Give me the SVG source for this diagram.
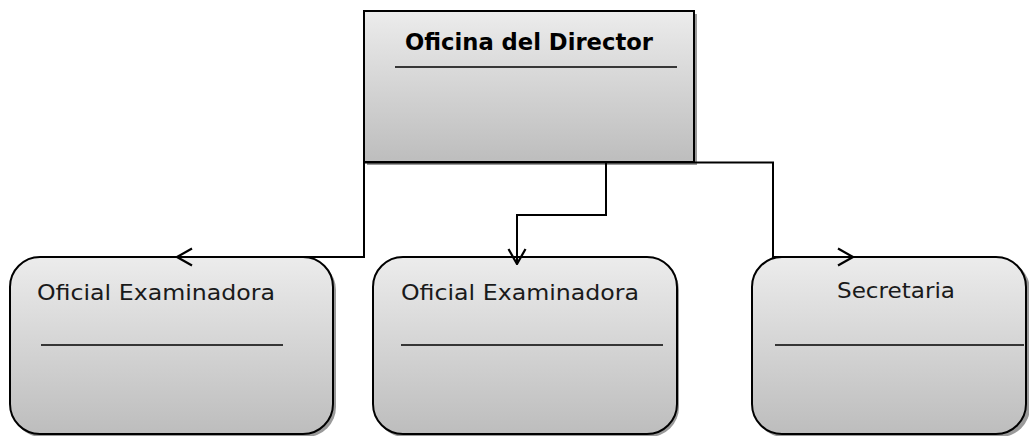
<svg xmlns="http://www.w3.org/2000/svg" width="1029" height="436" viewBox="0 0 1029 436">
<defs>
<linearGradient id="g" x1="0" y1="0" x2="0" y2="1">
<stop offset="0" stop-color="#ececec"/>
<stop offset="1" stop-color="#bdbdbd"/>
</linearGradient>
<marker id="arr" viewBox="0 0 17 20" refX="16" refY="10" markerWidth="17" markerHeight="20" markerUnits="userSpaceOnUse" orient="auto">
<path d="M1,1.5 L16,10 L1,18.5" fill="none" stroke="#000" stroke-width="2.2"/>
</marker>
<style>
.box{fill:url(#g);stroke:#000;stroke-width:2}
.shadow{fill:#9a9a9a}
.rule{stroke:#000;stroke-width:1.5}
.lbl{font-family:"DejaVu Sans","Liberation Sans",sans-serif;font-size:21px;fill:#1a1a1a}
.ttl{font-family:"DejaVu Sans","Liberation Sans",sans-serif;font-size:23px;font-weight:bold;fill:#000}
.conn{fill:none;stroke:#000;stroke-width:2}
</style>
</defs>
<g id="director">
<rect class="shadow" x="367" y="14" width="330" height="151"/>
<rect class="box" x="364" y="11" width="330" height="151"/>
<text class="ttl" x="529" y="50" text-anchor="middle" textLength="248" lengthAdjust="spacingAndGlyphs">Oficina del Director</text>
<line class="rule" x1="395" y1="67" x2="677" y2="67"/>
</g>
<g id="oficial1">
<rect class="shadow" x="12" y="260" width="324" height="177" rx="30"/>
<rect class="box" x="10" y="257" width="323" height="177" rx="30"/>
<text class="lbl" x="37" y="300" textLength="238" lengthAdjust="spacingAndGlyphs">Oficial Examinadora</text>
<line class="rule" x1="41" y1="345" x2="283" y2="345"/>
</g>
<g id="oficial2">
<rect class="shadow" x="375" y="260" width="304" height="177" rx="30"/>
<rect class="box" x="373" y="257" width="304" height="177" rx="30"/>
<text class="lbl" x="401" y="300" textLength="238" lengthAdjust="spacingAndGlyphs">Oficial Examinadora</text>
<line class="rule" x1="401" y1="345" x2="663" y2="345"/>
</g>
<g id="secretaria">
<rect class="shadow" x="754" y="260" width="276" height="177" rx="30"/>
<rect class="box" x="752" y="257" width="274" height="177" rx="30"/>
<text class="lbl" x="896" y="298" text-anchor="middle" textLength="118" lengthAdjust="spacingAndGlyphs">Secretaria</text>
<line class="rule" x1="775" y1="345" x2="1024" y2="345"/>
</g>
<g id="connectors">
<line class="conn" x1="364" y1="162.5" x2="774" y2="162.5"/>
<polyline class="conn" points="364,162 364,257 177,257" marker-end="url(#arr)"/>
<polyline class="conn" points="606,162 606,215 517,215 517,264" marker-end="url(#arr)"/>
<polyline class="conn" points="773,162 773,257 853,257" marker-end="url(#arr)"/>
</g>
</svg>
